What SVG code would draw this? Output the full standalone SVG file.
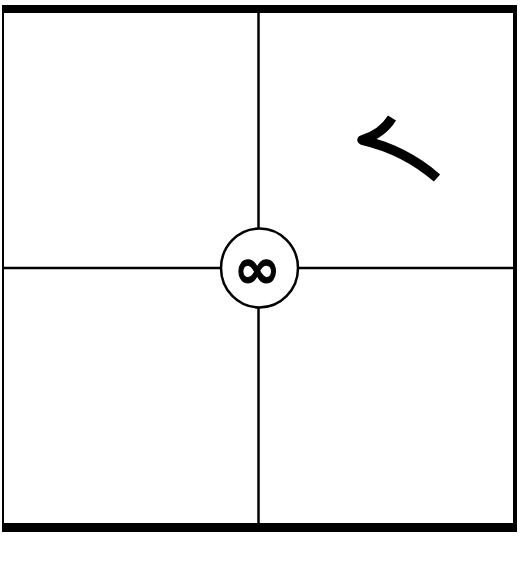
<svg xmlns="http://www.w3.org/2000/svg" width="520" height="569" viewBox="0 0 520 569">
<style>
.ln{stroke:#000;fill:none;stroke-linecap:butt}
.sym{font-family:"DejaVu Sans","Liberation Sans",sans-serif;font-weight:bold;fill:#000}
</style>
<rect width="520" height="569" fill="#fff"/>
<g id="frame">
<line class="ln" x1="3" y1="5" x2="3" y2="532" stroke-width="2"/>
<line class="ln" x1="2" y1="9" x2="517" y2="9" stroke-width="8"/>
<line class="ln" x1="515" y1="5" x2="515" y2="532" stroke-width="4"/>
<line class="ln" x1="2" y1="527.5" x2="517" y2="527.5" stroke-width="9"/>
</g>
<g id="connectors">
<line class="ln" x1="258.5" y1="13" x2="258.5" y2="228" stroke-width="2.5"/>
<line class="ln" x1="258.5" y1="308" x2="258.5" y2="523" stroke-width="2.5"/>
<line class="ln" x1="3" y1="268" x2="220" y2="268" stroke-width="2.5"/>
<line class="ln" x1="298" y1="268" x2="515" y2="268" stroke-width="2.5"/>
</g>
<g id="node-center">
<ellipse cx="259.5" cy="268" rx="38.5" ry="39.5" class="ln" stroke-width="2.5" fill="#fff"/>
<text x="257" y="288" text-anchor="middle" class="sym" font-size="56" stroke="#000" stroke-width="1">∞</text>
</g>
<g id="mark">
<path d="M392,118 Q382,134 362,140 Q405,150 437,178" class="ln" stroke-width="9.5" stroke-linecap="round" stroke-linejoin="round"/>
</g>
</svg>
